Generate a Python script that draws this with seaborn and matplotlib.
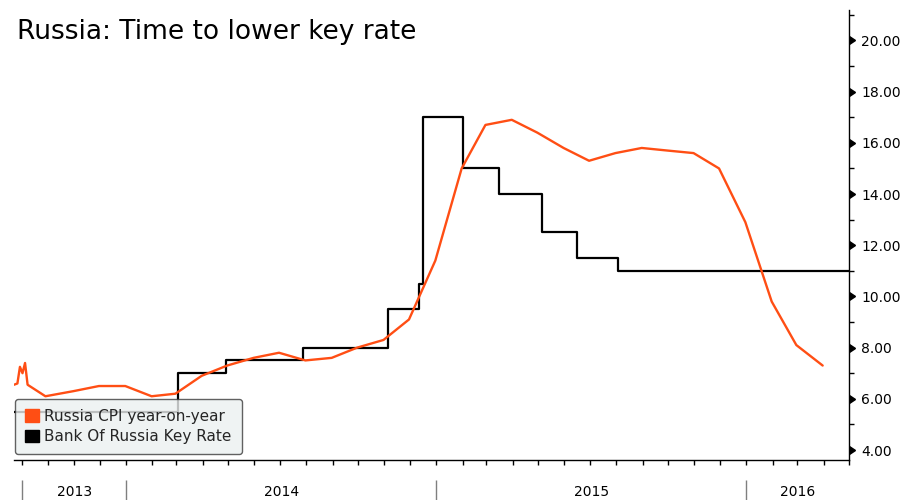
import matplotlib
matplotlib.use("Agg")
import matplotlib.pyplot as plt
import matplotlib.dates as mdates
import matplotlib.markers as mmarkers
import matplotlib.transforms as mtransforms
from matplotlib.patches import Patch
from matplotlib.ticker import MultipleLocator, FormatStrFormatter, NullLocator
import pandas as pd
import seaborn as sns

# ---------------- data ----------------
cpi_dates = ["2013-08-22", "2013-08-26", "2013-08-29", "2013-09-01", "2013-09-04",
             "2013-09-07", "2013-09-28", "2013-10-31", "2013-11-30", "2013-12-31",
             "2014-01-31", "2014-02-28", "2014-03-31", "2014-04-30", "2014-05-31",
             "2014-06-30", "2014-07-31", "2014-08-31", "2014-09-30", "2014-10-31",
             "2014-11-30", "2014-12-31", "2015-01-31", "2015-02-28", "2015-03-31",
             "2015-04-30", "2015-05-31", "2015-06-30", "2015-07-31", "2015-08-31",
             "2015-09-30", "2015-10-31", "2015-11-30", "2015-12-31", "2016-01-31",
             "2016-02-29", "2016-03-31"]
cpi_values = [6.55, 6.6, 7.25, 7.0, 7.4,
              6.55, 6.1, 6.3, 6.5, 6.5,
              6.1, 6.2, 6.9, 7.3, 7.6,
              7.8, 7.5, 7.6, 8.0, 8.3,
              9.1, 11.4, 15.0, 16.7, 16.9,
              16.4, 15.8, 15.3, 15.6, 15.8,
              15.7, 15.6, 15.0, 12.9, 9.8,
              8.1, 7.3]

rate_dates = ["2013-08-22", "2014-03-03", "2014-04-28", "2014-07-28", "2014-11-05",
              "2014-12-12", "2014-12-16", "2015-02-02", "2015-03-16", "2015-05-05",
              "2015-06-16", "2015-08-03", "2016-05-01"]
rate_values = [5.5, 7.0, 7.5, 8.0, 9.5,
               10.5, 17.0, 15.0, 14.0, 12.5,
               11.5, 11.0, 11.0]

year_labels = ["2013", "2014", "2015", "2016"]
year_bounds = ["2013-09-01", "2014-01-01", "2015-01-01", "2016-01-01", "2016-05-01"]

title = "Russia: Time to lower key rate"
cpi_label = "Russia CPI year-on-year"
rate_label = "Bank Of Russia Key Rate"

ORANGE = "#ff4e14"
BLACK = "#000000"

# ---------------- plot ----------------
sns.set_theme(style="white")
plt.rcParams["font.family"] = ["DejaVu Sans"]

fig = plt.figure(figsize=(9.04, 5.0), dpi=100)
ax = fig.add_axes([14 / 904, 40 / 500, (849 - 14) / 904, 450 / 500])

cpi = pd.DataFrame({"date": pd.to_datetime(cpi_dates), "value": cpi_values})
rate = pd.DataFrame({"date": pd.to_datetime(rate_dates), "value": rate_values})

sns.lineplot(data=rate, x="date", y="value", ax=ax, color=BLACK, linewidth=1.6,
             drawstyle="steps-post", zorder=2)
sns.lineplot(data=cpi, x="date", y="value", ax=ax, color=ORANGE, linewidth=1.7,
             zorder=3)

ax.set_xlim(pd.Timestamp("2013-08-22"), pd.Timestamp("2016-05-01"))
ax.set_ylim(3.61, 21.19)
ax.set_xlabel("")
ax.set_ylabel("")

# spines
for s in ["left", "top"]:
    ax.spines[s].set_visible(False)
for s in ["right", "bottom"]:
    ax.spines[s].set_visible(True)
    ax.spines[s].set_color("black")
    ax.spines[s].set_linewidth(1.0)

# y axis on the right
ax.yaxis.tick_right()
ax.yaxis.set_major_locator(MultipleLocator(2))
ax.yaxis.set_minor_locator(MultipleLocator(1))
ax.yaxis.set_major_formatter(FormatStrFormatter("%.2f"))
ax.tick_params(axis="y", which="major", direction="out", length=7, width=1,
               labelsize=10, pad=2, colors="black", right=True, left=False)
ax.tick_params(axis="y", which="minor", direction="out", length=3.5, width=1,
               right=True, left=False, colors="black")
ax.set_yticks([4, 6, 8, 10, 12, 14, 16, 18, 20])
for t in ax.yaxis.get_major_ticks():
    t.tick2line.set_marker(mmarkers.CARETRIGHTBASE)
    t.tick2line.set_markersize(6)

# x axis: monthly ticks only
ax.xaxis.set_major_locator(NullLocator())
ax.xaxis.set_minor_locator(mdates.MonthLocator())
ax.tick_params(axis="x", which="minor", direction="out", length=3.5, width=1,
               bottom=True, colors="black")
ax.tick_params(axis="x", which="major", bottom=False, labelbottom=False)

# year separators and labels
trans = mtransforms.blended_transform_factory(ax.transData, ax.transAxes)
yb = pd.to_datetime(year_bounds)
ax.vlines(yb[:-1], -0.044, -0.095, transform=trans, colors="#7f7f7f",
          linewidth=1.0, clip_on=False)
for i, lab in enumerate(year_labels):
    mid = yb[i] + (yb[i + 1] - yb[i]) / 2
    ax.text(mid, -0.071, lab, transform=trans, ha="center", va="center",
            fontsize=10, color="black", clip_on=False)

# legend
handles = [Patch(facecolor=ORANGE, edgecolor=ORANGE, label=cpi_label),
           Patch(facecolor=BLACK, edgecolor=BLACK, label=rate_label)]
leg = ax.legend(handles=handles, loc="lower left", bbox_to_anchor=(0.0015, 0.013),
                borderaxespad=0, frameon=True, fancybox=True, fontsize=11.0,
                handlelength=0.9, handleheight=0.9, handletextpad=0.35,
                labelspacing=0.35, borderpad=0.65)
frame = leg.get_frame()
frame.set_facecolor((0.925, 0.94, 0.94, 0.72))
frame.set_edgecolor((0.23, 0.23, 0.23, 1.0))
frame.set_linewidth(1.0)

fig.text(17 / 904, 1 - 32 / 500, title, fontsize=19, ha="left", va="center",
         color="black")

fig.savefig("out.png", dpi=100, facecolor="white")
